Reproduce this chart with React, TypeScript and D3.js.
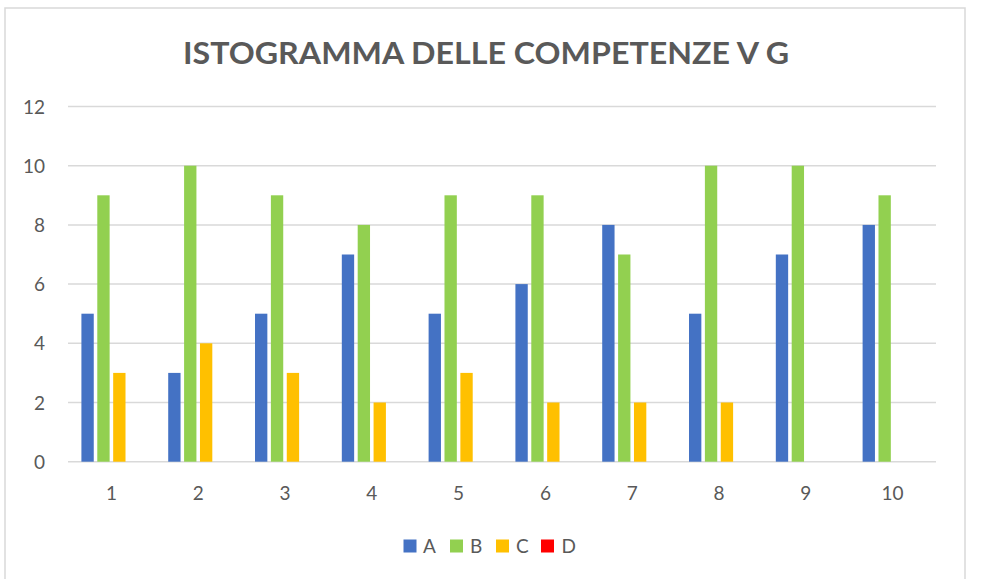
import React from "react";
import * as d3 from "d3";

const categories = ["1", "2", "3", "4", "5", "6", "7", "8", "9", "10"];
const seriesNames = ["A", "B", "C", "D"];
const valuesA = [5, 3, 5, 7, 5, 6, 8, 5, 7, 8];
const valuesB = [9, 10, 9, 8, 9, 9, 7, 10, 10, 9];
const valuesC = [3, 4, 3, 2, 3, 2, 2, 2, 0, 0];
const valuesD = [0, 0, 0, 0, 0, 0, 0, 0, 0, 0];
const yTicks = [0, 2, 4, 6, 8, 10, 12];
const colors = ["#4472C4", "#92D050", "#FFC000", "#FF0000"];
const title = "ISTOGRAMMA DELLE COMPETENZE V G";

const W = 982;
const H = 579;
const plotLeft = 68;
const plotRight = 936;
const plotTop = 106.5;
const plotBottom = 461.7;
const font = "Lato, 'Open Sans', sans-serif";
const textColor = "#595959";

export default function App() {
  const series = [valuesA, valuesB, valuesC, valuesD];
  const x0 = d3.scaleBand<string>().domain(categories).range([plotLeft, plotRight]).paddingInner(0).paddingOuter(0);
  const bw = x0.bandwidth();
  const inset = bw * 0.1545;
  const x1 = d3.scaleBand<string>().domain(seriesNames).range([inset, bw - inset]).paddingInner(0.223).paddingOuter(0);
  const y = d3.scaleLinear().domain([0, 12]).range([plotBottom, plotTop]);

  const legendItems = [
    { name: "A", sx: 403.5, tx: 423 },
    { name: "B", sx: 450, tx: 470 },
    { name: "C", sx: 496, tx: 516 },
    { name: "D", sx: 541, tx: 561.5 },
  ];

  return (
    <svg width={W} height={H} style={{ position: "absolute", left: 0, top: 0, background: "#fff" }}>
      <rect x={0} y={0} width={W} height={H} fill="#fff" />
      <rect x={5} y={8} width={960} height={H + 10} fill="#fff" stroke="#D9D9D9" strokeWidth={1.5} />
      <text
        x={486}
        y={64}
        textAnchor="middle"
        fontFamily={font}
        fontWeight="bold"
        fontSize={30}
        fill={textColor}
        textLength={606}
        lengthAdjust="spacingAndGlyphs"
      >
        {title}
      </text>
      {yTicks.map((t) => (
        <g key={t}>
          <line x1={plotLeft} x2={plotRight} y1={y(t)} y2={y(t)} stroke="#D9D9D9" strokeWidth={1.5} />
          <text x={45} y={y(t) + 7} textAnchor="end" fontFamily={font} fontSize={19} fill={textColor}>
            {t}
          </text>
        </g>
      ))}
      {categories.map((c, i) => (
        <g key={c} transform={`translate(${x0(c)},0)`}>
          {series.map((vals, s) =>
            vals[i] > 0 ? (
              <rect
                key={s}
                x={x1(seriesNames[s])}
                y={y(vals[i])}
                width={x1.bandwidth()}
                height={y(0) - y(vals[i])}
                fill={colors[s]}
              />
            ) : null
          )}
          <text x={bw / 2} y={500} textAnchor="middle" fontFamily={font} fontSize={19} fill={textColor}>
            {c}
          </text>
        </g>
      ))}
      {legendItems.map((l, i) => (
        <g key={l.name}>
          <rect x={l.sx} y={539.5} width={13} height={13} fill={colors[i]} />
          <text x={l.tx} y={553} fontFamily={font} fontSize={19} fill={textColor}>
            {l.name}
          </text>
        </g>
      ))}
    </svg>
  );
}
